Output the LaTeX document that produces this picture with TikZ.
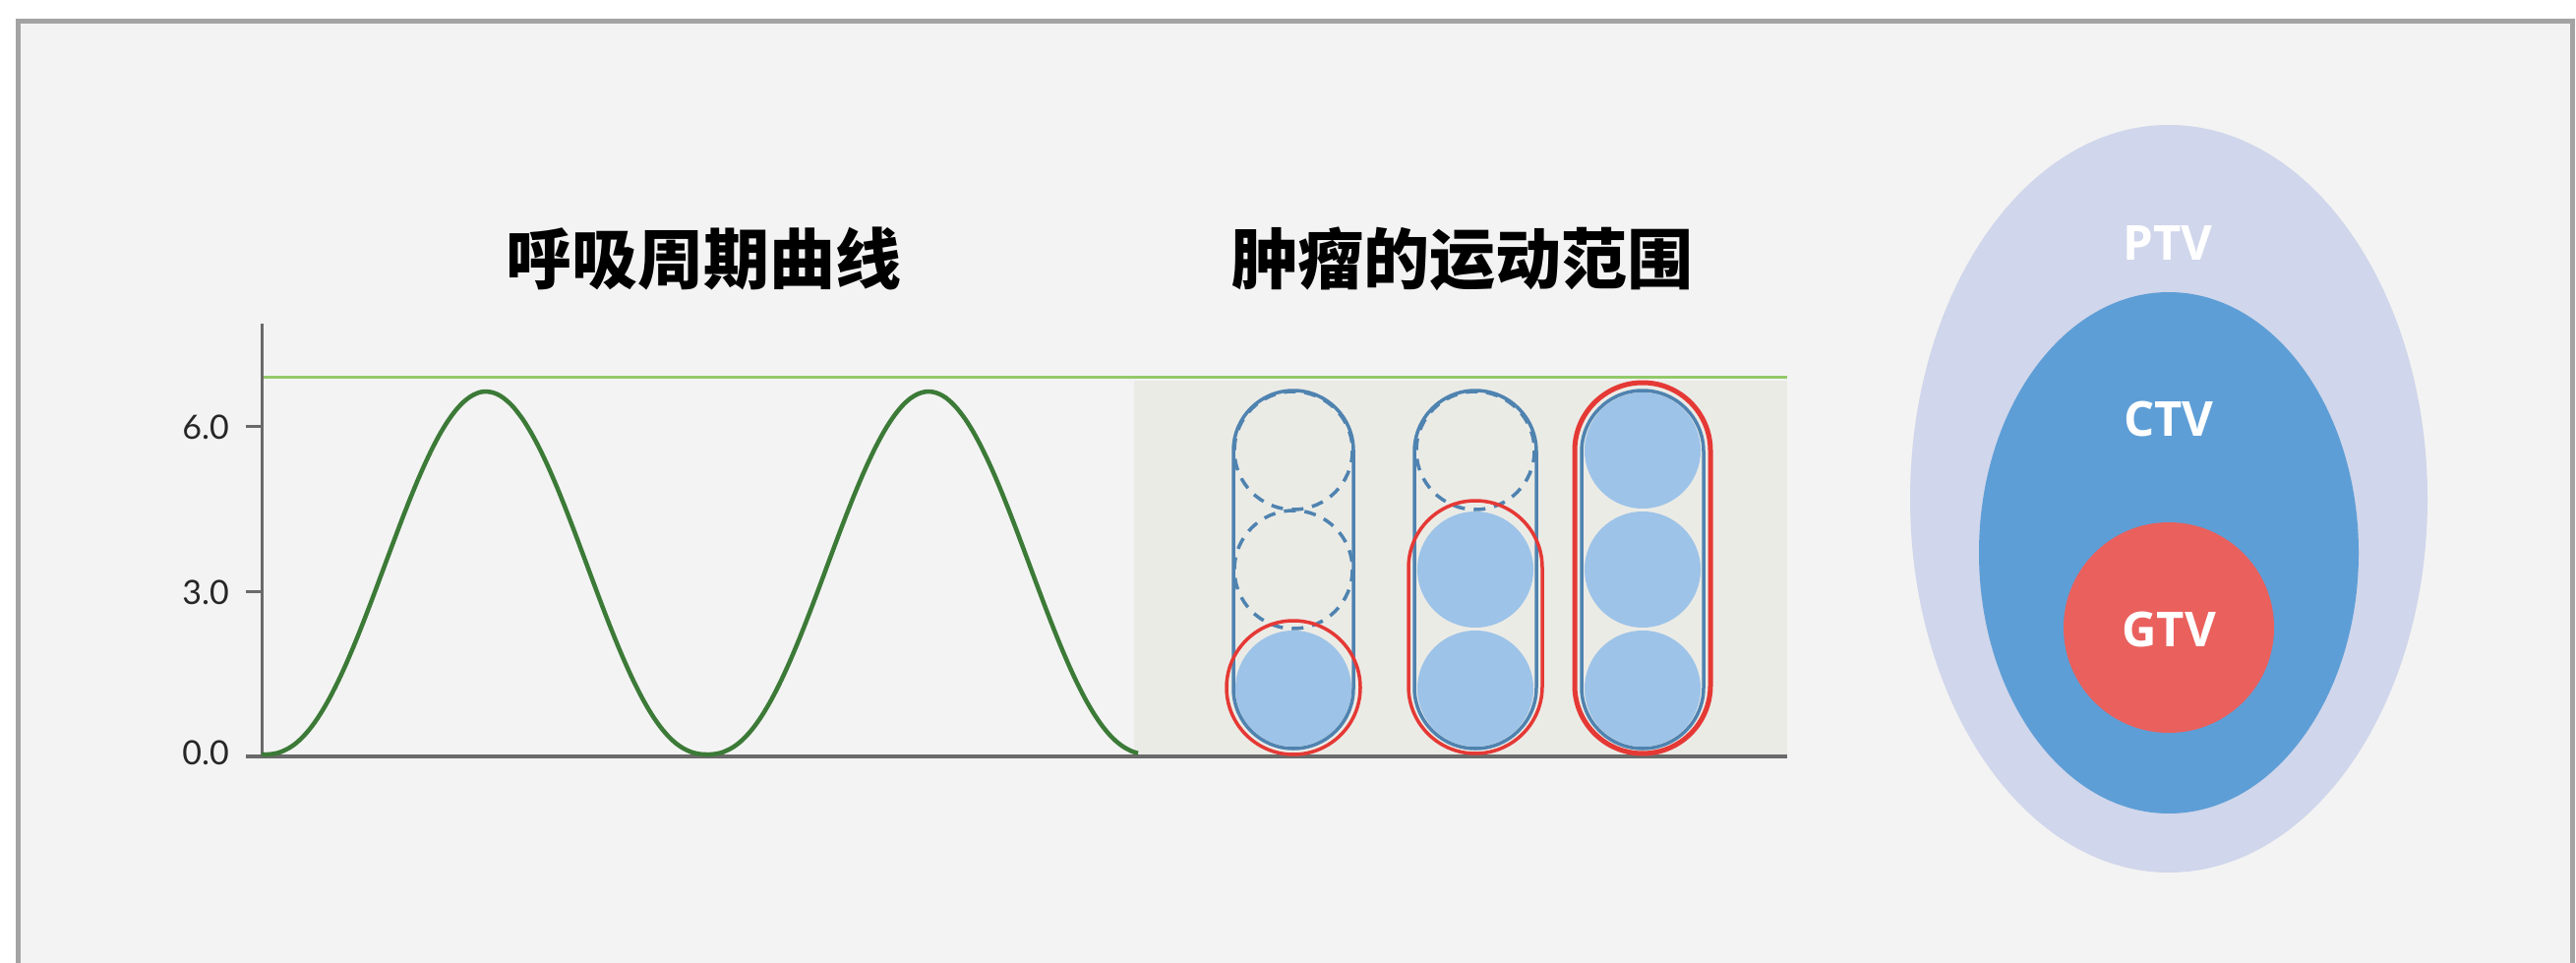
\documentclass[tikz,border=0pt]{standalone}
\usepackage{fontspec}
\newfontfamily\cjk{Noto Sans CJK SC}
\newfontfamily\latofont{Lato}
\newfontfamily\opensans{Open Sans}
\definecolor{bgc}{HTML}{F3F3F3}
\definecolor{framec}{HTML}{A3A3A3}
\definecolor{panelc}{HTML}{EBEBE6}
\definecolor{axisc}{HTML}{6A6A6A}
\definecolor{curvec}{HTML}{3C7A37}
\definecolor{limitc}{HTML}{93C96A}
\definecolor{capc}{HTML}{4F83B0}
\definecolor{ballc}{HTML}{9DC3E8}
\definecolor{redc}{HTML}{E53935}
\definecolor{ptvc}{HTML}{D0D6EB}
\definecolor{ctvc}{HTML}{5E9ED6}
\definecolor{gtvc}{HTML}{E9605D}
\begin{document}
\begin{tikzpicture}[x=1pt,y=-1pt,
  titlestyle/.style={font=\fontsize{67}{70}\selectfont\cjk\bfseries, text=black, inner sep=0pt},
  ticklabel/.style={font=\fontsize{34}{36}\selectfont\latofont, text=black!85, inner sep=0pt, anchor=east},
  volabel/.style={font=\fontsize{49}{52}\selectfont\opensans\bfseries, text=white, inner sep=0pt},
  capsule/.style={draw=capc, line width=3.5pt},
  ball/.style={fill=ballc},
  ghost/.style={draw=capc, line width=3.5pt, dash pattern=on 12pt off 9pt},
  redline/.style={draw=redc, line width=3.5pt}]
\useasboundingbox (0,0) rectangle (2619,979);
\fill[white] (0,0) rectangle (2619,979);
\clip (0,0) rectangle (2619,979);
% frame
\draw[draw=framec, fill=bgc, line width=5pt] (18,22) rectangle (2615,1020);

% titles
\node[titlestyle] (t1) at (715,263) {呼吸周期曲线};
\node[titlestyle] (t2) at (1487,263) {肿瘤的运动范围};

% panel behind capsules
\fill[panelc] (1153,387) rectangle (1817,768);

% limit line
\coordinate (limL) at (268,383);
\coordinate (limR) at (1817,383);
\draw[limitc, line width=3pt] (limL) -- (limR);

% axes
\coordinate (yTop) at (266,329);
\coordinate (origin) at (266,769);
\coordinate (xL) at (250,769);
\coordinate (xR) at (1817,769);
\draw[axisc, line width=3pt] (yTop) -- (origin);
\draw[axisc, line width=4pt] (xL) -- (xR);
\coordinate (tk6) at (250,433);
\coordinate (tk6e) at (266,433);
\coordinate (tk3) at (250,601);
\coordinate (tk3e) at (266,601);
\draw[axisc, line width=3pt] (tk6) -- (tk6e);
\draw[axisc, line width=3pt] (tk3) -- (tk3e);
\node[ticklabel] (l6) at (233,434) {6.0};
\node[ticklabel] (l3) at (233,602) {3.0};
\node[ticklabel] (l0) at (233,765) {0.0};

% breathing curve
\draw[curvec, line width=4.5pt, line join=round]
  plot[domain=266:1157, samples=320, smooth]
  (\x, {767 - 369*pow(abs(sin(0.4*(\x-269)))+0.00001, 2.3)});

% capsule 1
\fill[ball] (1315,700) circle[radius=59];
\draw[ghost] (1315,458) circle[radius=60];
\draw[ghost] (1315,579) circle[radius=60];
\draw[capsule, rounded corners=61pt] (1254,397) rectangle (1376,761);
\draw[redline] (1315,699) circle[radius=68];

% capsule 2
\fill[ball] (1500,700) circle[radius=59];
\fill[ball] (1500,579) circle[radius=59];
\draw[ghost] (1500,458) circle[radius=60];
\draw[capsule, rounded corners=62pt] (1438,397) rectangle (1562,761);
\draw[redline, rounded corners=68pt] (1432,509) rectangle (1568,766);

% capsule 3
\fill[ball] (1670,700) circle[radius=59];
\fill[ball] (1670,579) circle[radius=59];
\fill[ball] (1670,458) circle[radius=59];
\draw[capsule, rounded corners=62pt] (1608,397) rectangle (1732,761);
\draw[redline, line width=5pt, rounded corners=69pt] (1601,389) rectangle (1739,766);

% target volumes
\fill[ptvc] (2205,507) ellipse[x radius=263, y radius=380];
\fill[ctvc] (2205,562) ellipse[x radius=193, y radius=265];
\fill[gtvc] (2205,638) circle[radius=107];
\node[volabel] (ptv) at (2204,247) {PTV};
\node[volabel] (ctv) at (2205,426) {CTV};
\node[volabel] (gtv) at (2205,640) {GTV};
\end{tikzpicture}
\end{document}
